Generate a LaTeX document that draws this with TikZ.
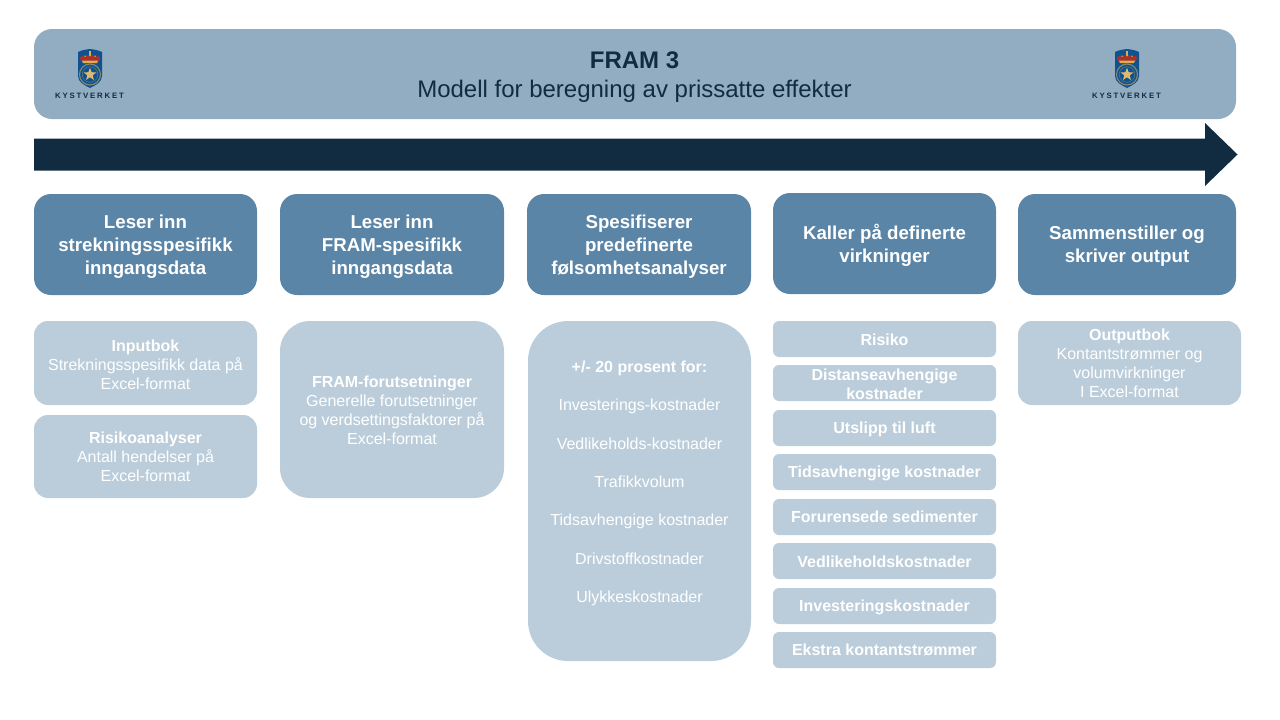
\documentclass[tikz,border=0pt]{standalone}
\usepackage{fontspec}
\setmainfont{Liberation Sans}
\usetikzlibrary{shapes.geometric}
\definecolor{bandc}{HTML}{92ADC2}
\definecolor{darkc}{HTML}{112B41}
\definecolor{headc}{HTML}{5A85A7}
\definecolor{lightc}{HTML}{BBCDDA}
\definecolor{shieldc}{HTML}{0F5290}
\definecolor{goldc}{HTML}{D9AE55}
\definecolor{redc}{HTML}{A8322B}
\newcommand{\bx}[8][0]{\node[#3,minimum width=#6pt-#4pt,minimum height=#7pt-#5pt,inner sep=0pt] (#2) at ({(#4+#6)/2},{(#5+#7)/2}) {};
\node[txt,yshift=-#1pt] (#2t) at (#2) {#8};}
\newcommand{\kvlogo}[2]{%
\begin{scope}[shift={(#1,0)}]
\fill[shieldc] (78,52) .. controls (82,50) and (86,49.5) .. (90,49) .. controls (94,49.5) and (98,50) .. (102,52) -- (102,76) .. controls (102,82) and (96,85) .. (90,88) .. controls (84,85) and (78,82) .. (78,76) -- cycle;
\fill[goldc] (89.4,50.5) rectangle (90.6,56);
\fill[redc] (82.5,62) .. controls (77,57.5) and (81,55) .. (85,56.5) .. controls (87,54.5) and (93,54.5) .. (95,56.5) .. controls (99,55) and (103,57.5) .. (97.5,62) -- cycle;
\fill[goldc] (82,60.6) -- (98,60.6) -- (97,63.2) -- (83,63.2) -- cycle;
\fill[goldc] (85,56.2) circle (0.8) (95,56.2) circle (0.8) (90,55.6) circle (0.9);
\draw[goldc!60!shieldc,line width=1.1pt] (90,74.5) circle (10.5);
\draw[goldc!40!shieldc,line width=.6pt] (90,74.5) circle (7.8);
\node[star,star points=5,star point ratio=2.4,fill=goldc!85!white,minimum size=13.5pt,inner sep=0pt] (#2s) at (90,74.5) {};
\node[text=darkc,font=\bfseries\fontsize{7.8}{9}\selectfont\addfontfeature{LetterSpace=23},inner sep=0pt] (#2t) at (89.5,96) {KYSTVERKET};
\end{scope}}
\tikzset{
 x=1pt,y=-1pt,
 txt/.style={inner sep=0pt,align=center,text=white,execute at begin node={\spaceskip=0pt\relax\xspaceskip=0pt\relax}},
 titletxt/.style={font=\fontsize{24}{29}\selectfont,text=darkc},
 headtxt/.style={font=\bfseries\fontsize{18.67}{23}\selectfont},
 bodytxt/.style={font=\fontsize{16}{19}\selectfont},
 efftxt/.style={font=\bfseries\fontsize{16}{19}\selectfont},
 band/.style={fill=bandc,rounded corners=18pt},
 headbox/.style={fill=headc,rounded corners=17pt},
 lightbox/.style={fill=lightc,rounded corners=14pt},
 tallbox/.style={fill=lightc,rounded corners=30pt},
 hugebox/.style={fill=lightc,rounded corners=40pt},
 effect/.style={fill=lightc,rounded corners=6pt},
}
\begin{document}
\begin{tikzpicture}
\useasboundingbox (0,0) rectangle (1280,720);
\node[band,minimum width=1202pt,minimum height=90pt,inner sep=0pt] (title) at (635,74) {};
\node[txt,titletxt] (titlet) at (634.5,77) {\textbf{FRAM 3}\\Modell for beregning av prissatte effekter};
\kvlogo{0}{la}
\kvlogo{1037}{lb}
\fill[darkc] (34,138.5) -- (1205,138.5) -- (1205,123) -- (1237.5,154.5) -- (1205,186) -- (1205,170.5) -- (34,170.5) -- cycle;
\begin{scope}[txt/.append style={headtxt}]
\bx[2]{h1}{headbox}{34}{194}{257}{295}{Leser inn\\strekningsspesifikk\\inngangsdata}
\bx[2]{h2}{headbox}{280}{194}{504}{295}{Leser inn\\FRAM-spesifikk\\inngangsdata}
\bx[2]{h3}{headbox}{527}{194}{751}{295}{Spesifiserer\\predefinerte\\følsomhetsanalyser}
\bx[2]{h4}{headbox}{773}{193}{996}{294}{Kaller på definerte\\virkninger}
\bx[2]{h5}{headbox}{1018}{194}{1236}{295}{Sammenstiller og\\skriver output}
\end{scope}
\begin{scope}[txt/.append style={bodytxt}]
\bx[2]{a1}{lightbox}{34}{321}{257}{405}{\textbf{Inputbok}\\Strekningsspesifikk data på\\Excel-format}
\bx{a2}{lightbox}{34}{415}{257}{498}{\textbf{Risikoanalyser}\\Antall hendelser på\\Excel-format}
\bx[1]{b1}{tallbox}{280}{321}{504}{498}{\textbf{FRAM-forutsetninger}\\Generelle forutsetninger\\og verdsettingsfaktorer på\\Excel-format}
\bx[-7.7]{c1}{hugebox}{528}{321}{751}{661}{\textbf{+/- 20 prosent for:}\\[19.4pt]Investerings-kostnader\\[19.4pt]Vedlikeholds-kostnader\\[19.4pt]Trafikkvolum\\[19.4pt]Tidsavhengige kostnader\\[19.4pt]Drivstoffkostnader\\[19.4pt]Ulykkeskostnader}
\bx{e1}{lightbox}{1018}{321}{1241}{405}{\textbf{Outputbok}\\Kontantstrømmer og\\volumvirkninger\\I Excel-format}
\end{scope}
\begin{scope}[txt/.append style={efftxt}]
\bx[1]{d1}{effect}{773}{321}{996}{357}{Risiko}
\bx[1]{d2}{effect}{773}{365}{996}{401}{Distanseavhengige\\kostnader}
\bx[1]{d3}{effect}{773}{410}{996}{446}{Utslipp til luft}
\bx[1]{d4}{effect}{773}{454}{996}{490}{Tidsavhengige kostnader}
\bx[0]{d5}{effect}{773}{499}{996}{535}{Forurensede sedimenter}
\bx[1]{d6}{effect}{773}{543}{996}{579}{Vedlikeholdskostnader}
\bx[1]{d7}{effect}{773}{588}{996}{624}{Investeringskostnader}
\bx[0]{d8}{effect}{773}{632}{996}{668}{Ekstra kontantstrømmer}
\end{scope}
\end{tikzpicture}
\end{document}
